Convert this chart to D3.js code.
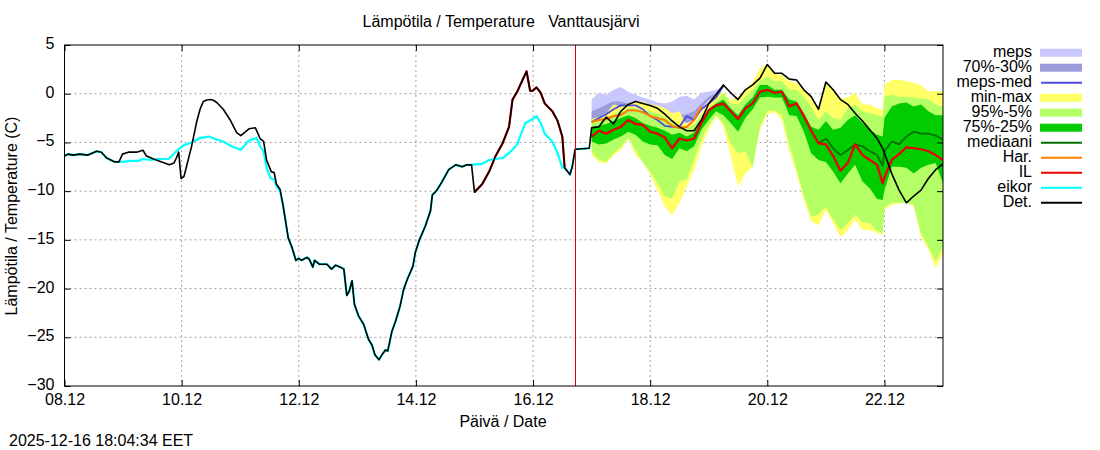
<!DOCTYPE html>
<html>
<head>
<meta charset="utf-8">
<script src="https://cdn.jsdelivr.net/npm/d3@7"></script>
<style>
  body { margin: 0; background: #fff; }
  text { font-family: "Liberation Sans", Arial, sans-serif; font-size: 16px; fill: #000; }
</style>
</head>
<body>
<svg id="chart" width="1100" height="450"></svg>
<script>
// Forecast time grid, 3 hour steps from 17.12 to 23.12 (extra point where the ensemble switches just before 22.12)
var fcDays = [17,17.125,17.25,17.375,17.5,17.625,17.75,17.875,18,18.125,18.25,18.375,18.5,18.625,18.75,18.875,
  19,19.125,19.25,19.375,19.5,19.625,19.75,19.875,20,20.125,20.25,20.375,20.5,20.625,20.75,20.875,
  21,21.125,21.25,21.375,21.5,21.625,21.75,21.875,21.97,22,22.125,22.25,22.375,22.5,22.625,22.75,22.875,23];

var minMaxHigh = [-2.6,-2.4,-2.0,-1.1,-1.3,-1.0,-0.8,-0.8,-1.1,-1.2,-1.5,-2.0,-1.8,-3.2,-3.0,-2.0,
  -0.9,-0.3,0.2,-0.7,-0.3,0.3,1.2,2.6,3.0,2.1,1.9,1.3,1.1,0.4,-0.4,-1.5,
  1.1,0.4,-0.5,-0.4,0.1,-1.1,-1.1,-1.5,-1.7,0.9,1.4,1.4,1.3,1.1,0.9,0.2,0.3,0.2];
var minMaxLow = [-6.3,-7.0,-7.2,-6.3,-5.8,-4.6,-6.3,-7.0,-8.3,-9.9,-11.6,-12.5,-11.2,-9.5,-7.8,-5.4,
  -3.7,-2.3,-3.4,-6.4,-9.5,-8.2,-7.5,-3.7,-2.1,-1.9,-2.7,-5.8,-8.2,-10.9,-13.1,-13.5,
  -11.9,-13.3,-14.7,-14.0,-12.9,-14.0,-14.0,-14.3,-14.5,-11.9,-11.4,-11.3,-11.2,-11.6,-14.7,-16.0,-17.9,-16.4];
var p95High = [-2.8,-2.5,-2.5,-2.1,-1.8,-1.5,-1.5,-1.7,-1.8,-2.0,-2.4,-2.9,-3.2,-3.5,-3.2,-2.2,
  -1.5,-0.8,0.1,-1.0,-1.1,-0.3,0.4,1.3,1.8,1.3,1.3,0.4,0.4,-0.3,-1.3,-2.7,
  -1.8,-2.5,-2.7,-1.5,-1.1,-1.8,-2.0,-2.2,-2.4,-0.3,-0.1,-0.3,-0.3,-0.4,-0.5,-0.6,-1.1,-1.3];
var p5Low = [-5.9,-6.8,-7.0,-6.1,-5.5,-4.5,-5.8,-7.0,-8.0,-9.2,-10.5,-10.8,-9.0,-8.8,-6.8,-4.7,
  -3.2,-2.2,-3.0,-5.1,-6.1,-5.9,-7.5,-3.4,-1.8,-1.7,-2.2,-5.2,-7.8,-10.5,-12.6,-12.4,
  -11.6,-12.9,-14.0,-13.3,-12.4,-13.2,-13.3,-14.1,-14.3,-11.7,-11.2,-11.2,-11.2,-11.4,-14.3,-15.7,-17.2,-15.7];
var p75High = [-3.4,-3.3,-3.1,-2.8,-2.5,-2.2,-2.5,-3.0,-3.3,-3.5,-3.8,-4.2,-4.0,-4.4,-4.0,-2.8,
  -1.6,-1.0,-0.6,-1.5,-2.2,-1.1,-0.4,0.9,0.9,0.4,0.4,-0.6,-0.8,-2.0,-3.4,-3.7,
  -2.8,-3.7,-3.5,-2.7,-2.2,-3.0,-3.7,-4.2,-4.4,-2.5,-1.3,-1.0,-0.9,-1.3,-1.1,-1.8,-2.2,-2.2];
var p25Low = [-4.9,-5.2,-5.1,-4.7,-4.4,-3.9,-4.2,-4.9,-5.2,-5.3,-6.3,-6.7,-5.6,-5.9,-5.4,-3.7,
  -2.7,-1.8,-2.2,-3.0,-3.9,-2.5,-1.6,-0.4,-0.3,-0.4,-0.4,-2.2,-2.3,-3.9,-6.1,-6.8,
  -7.0,-8.0,-9.2,-8.2,-7.3,-9.0,-9.7,-10.8,-10.9,-9.9,-7.5,-7.5,-7.6,-8.2,-7.6,-7.3,-7.1,-9.2];
var medianValues = [-4.4,-3.8,-4.1,-3.7,-3.4,-2.7,-3.1,-3.2,-3.9,-4.1,-4.5,-5.6,-4.6,-4.8,-4.6,-3.0,
  -1.7,-1.2,-1.0,-1.8,-2.6,-1.5,-1.0,0.2,0.4,0.1,0.2,-1.3,-1.0,-2.3,-3.8,-5.1,
  -4.6,-5.6,-6.3,-5.8,-5.2,-5.4,-5.9,-6.3,-7.4,-5.9,-4.9,-5.2,-4.4,-3.9,-4.1,-4.1,-4.3,-4.7];
var ilValues = [-4.4,-3.8,-4.1,-3.7,-3.4,-2.7,-3.1,-3.2,-3.9,-4.1,-4.5,-5.6,-4.6,-4.8,-4.6,-3.0,
  -1.7,-1.2,-1.0,-1.8,-2.6,-1.5,-1.0,0.2,0.4,0.1,0.2,-1.3,-1.0,-2.3,-3.8,-5.1,
  -5.2,-6.4,-7.9,-7.1,-5.2,-6.3,-6.8,-7.3,-9.2,-8.6,-6.8,-6.2,-5.5,-5.6,-5.7,-5.9,-6.3,-6.8];
var detFcValues = [-3.5,-3.4,-2.4,-3.1,-1.8,-1.1,-0.8,-1.0,-1.2,-1.5,-2.1,-2.8,-3.4,-3.8,-3.8,-2.7,
  -1.0,-0.1,0.9,0.1,-0.6,0.4,0.9,1.6,3.0,2.1,2.1,1.5,1.4,0.4,-0.3,-1.6,
  1.2,0.4,-0.6,-1.1,-2.0,-2.8,-3.7,-4.6,-5.6,-6.1,-8.2,-9.9,-11.2,-10.5,-9.9,-8.7,-7.8,-7.2];

// MEPS runs end earlier, 19.12 06 o'clock
var mepsDays = fcDays.slice(0, 19);
var mepsHigh = [-0.6,0.1,-0.1,0.4,0.7,0.2,-0.1,-0.4,-0.6,-0.9,-1.0,-0.8,-0.3,-0.2,-0.6,0.1,0.2,0.4,0.8];
var mepsLow = [-3.0,-2.5,-2.2,-2.0,-1.8,-1.5,-1.3,-1.6,-2.2,-2.5,-3.0,-3.3,-3.4,-2.8,-2.7,-1.3,-0.6,-0.1,0.8];
var meps70 = [-1.8,-1.5,-1.1,-0.8,-0.8,-1.0,-1.0,-1.1,-1.3,-1.6,-2.1,-2.3,-2.2,-2.1,-1.8,-1.0,-0.3,0.1,0.8];
var meps30 = [-2.8,-2.5,-2.3,-2.1,-1.7,-1.5,-1.5,-1.8,-2.3,-2.6,-3.1,-3.4,-3.4,-3.0,-2.7,-1.5,-0.7,-0.2,0.8];
var mepsMed = [-2.9,-2.5,-2.1,-1.6,-1.2,-1.2,-1.2,-1.6,-2.3,-2.7,-3.3,-3.4,-3.4,-2.3,-2.7,-1.6,-1.0,-0.4,0.8];

// Har. stops even earlier
var harDays = fcDays.slice(0, 16);
var harValues = [-2.9,-2.7,-2.6,-2.3,-2.2,-1.7,-1.7,-1.9,-2.3,-2.5,-2.7,-3.3,-3.5,-3.4,-2.7,-1.3];

// Observed period, Det. line
var obsDays = [8,8.06,8.15,8.26,8.4,8.55,8.63,8.72,8.86,8.93,8.99,9.09,9.23,9.34,9.4,9.52,9.66,9.79,9.87,9.91,9.95,9.99,
  10.04,10.17,10.26,10.32,10.37,10.43,10.5,10.55,10.6,10.71,10.83,10.94,11.01,11.15,11.26,11.34,11.4,11.45,11.53,11.58,11.62,
  11.68,11.73,11.77,11.82,11.88,11.95,12,12.05,12.14,12.18,12.24,12.27,12.35,12.48,12.56,12.63,12.71,12.77,12.82,12.86,12.91,12.95,
  13.02,13.11,13.19,13.25,13.3,13.37,13.42,13.48,13.52,13.59,13.65,13.73,13.79,13.85,13.95,13.99,
  14.06,14.16,14.25,14.28,14.36,14.45,14.56,14.68,14.79,14.87,14.95,15,15.13,15.25,15.36,15.48,15.59,15.65,15.73,15.82,15.89,15.95,15.99,
  16.06,16.13,16.2,16.33,16.42,16.5,16.54,16.63,16.67,16.72,16.96];
var obsValues = [-6.4,-6.2,-6.3,-6.2,-6.3,-5.9,-6.0,-6.6,-7.0,-7.0,-6.2,-6.0,-6.0,-5.8,-6.4,-6.7,-7.0,-7.3,-7.1,-6.6,-6.0,-8.7,
  -8.5,-5.4,-2.8,-1.5,-0.8,-0.65,-0.6,-0.7,-0.9,-1.6,-2.7,-4.0,-4.3,-3.6,-3.5,-4.6,-4.9,-6.8,-8.0,-8.1,-9.3,
  -9.8,-11.4,-12.9,-14.8,-15.7,-17.1,-16.9,-17.1,-16.8,-17.0,-17.8,-17.1,-17.5,-17.5,-18.0,-17.6,-17.8,-18.0,-20.7,-20.3,-19.2,-21.6,
  -22.8,-23.7,-25.2,-25.8,-26.8,-27.3,-26.8,-26.3,-26.4,-24.4,-23.4,-21.8,-20.1,-19.1,-17.7,-16.3,
  -15.0,-13.6,-12.0,-10.4,-9.9,-9.0,-7.8,-7.3,-7.5,-7.3,-7.3,-10.1,-9.3,-8.0,-6.4,-5.1,-3.4,-0.6,0.2,1.4,2.3,0.3,0.3,
  0.65,0.1,-1.0,-1.8,-2.8,-4.4,-7.6,-8.3,-7.5,-5.7,-5.6];

// eikor where it leaves the Det. line
var eikorDays1 = [8.93,9,9.12,9.26,9.34,9.46,9.6,9.77,9.83,9.91,10.03,10.17,10.31,10.46,10.57,10.71,10.85,11.01,11.15,11.28,11.34,11.4,11.45,11.52,11.58,11.62,11.68];
var eikorTemp1 = [-7.0,-7.0,-6.9,-6.9,-6.7,-6.8,-6.7,-6.7,-6.4,-5.9,-5.3,-5.0,-4.55,-4.4,-4.65,-4.9,-5.4,-5.75,-4.8,-4.55,-5.4,-5.9,-7.6,-8.7,-8.8,-9.5,-10.0];
var eikorDays2 = [14.95,15.13,15.25,15.48,15.59,15.73,15.79,15.87,15.99,16.06,16.13,16.2,16.33,16.42,16.5,16.54];
var eikorTemp2 = [-7.3,-7.2,-6.8,-6.6,-6.1,-5.2,-4.2,-3.0,-2.6,-2.3,-3.0,-4.1,-4.9,-6.1,-7.6,-7.6];

var nowDay = 16.72;

var xTicks = [8,10,12,14,16,18,20,22];
var yTicks = [5,0,-5,-10,-15,-20,-25,-30];

var legendNames = ["meps","70%-30%","meps-med","min-max","95%-5%","75%-25%","mediaani","Har.","IL","eikor","Det."];
var legendColors = ["#c8c8ff","#9c9cdc","#4c4ce0","#ffff66","#b4ff66","#00cc00","#007000","#ff8000","#ee0000","#00ffff","#000000"];
var legendIsBand = [true,true,false,true,true,true,false,false,false,false,false];

var left = 64.5, right = 943, top_ = 45, bottom = 386;
var svg = d3.select("#chart");

var x = d3.scaleLinear().domain([8, 23]).range([left, right]);
var y = d3.scaleLinear().domain([-30, 5]).range([bottom, top_]);

svg.append("clipPath").attr("id", "plot").append("rect")
  .attr("x", left).attr("y", top_).attr("width", right - left).attr("height", bottom - top_);

// Grid lines
var gridColor = "#a0a0a0";
svg.append("g").selectAll("line").data(xTicks.slice(1)).join("line")
  .attr("x1", d => x(d)).attr("x2", d => x(d)).attr("y1", top_).attr("y2", bottom)
  .attr("stroke", gridColor).attr("stroke-dasharray", "2,3");
svg.append("g").selectAll("line").data(yTicks.slice(1, -1)).join("line")
  .attr("x1", left).attr("x2", right).attr("y1", d => y(d)).attr("y2", d => y(d))
  .attr("stroke", gridColor).attr("stroke-dasharray", "2,3");

var plot = svg.append("g").attr("clip-path", "url(#plot)");

function drawBand(days, hi, lo, color) {
  var area = d3.area()
    .x((d, i) => x(days[i]))
    .y0((d, i) => y(lo[i]))
    .y1((d, i) => y(hi[i]));
  plot.append("path").attr("d", area(days)).attr("fill", color);
}

function drawLine(days, vals, color, width) {
  var line = d3.line()
    .x((d, i) => x(days[i]))
    .y((d, i) => y(vals[i]));
  plot.append("path").attr("d", line(days))
    .attr("fill", "none").attr("stroke", color).attr("stroke-width", width)
    .attr("stroke-linejoin", "round");
}

// Draw order follows the legend
drawBand(mepsDays, mepsHigh, mepsLow, legendColors[0]);
drawBand(mepsDays, meps70, meps30, legendColors[1]);
drawBand(fcDays, minMaxHigh, minMaxLow, legendColors[3]);
drawBand(fcDays, p95High, p5Low, legendColors[4]);
drawBand(fcDays, p75High, p25Low, legendColors[5]);
drawLine(mepsDays, mepsMed, legendColors[2], 1.8);
drawLine(fcDays, medianValues, legendColors[6], 1.8);
drawLine(harDays, harValues, legendColors[7], 2.2);

// IL follows the observations from 15.12 on, then its own forecast
var ilObs = obsDays.map((d, i) => [d, obsValues[i]]).filter(p => p[0] >= 15 && p[0] <= 16.54);
drawLine(ilObs.map(p => p[0]), ilObs.map(p => p[1]), legendColors[8], 2.2);
drawLine(fcDays, ilValues, legendColors[8], 2.2);

// eikor runs under Det. except for its two own stretches
var eikorObs = obsDays.map((d, i) => [d, obsValues[i]]);
var eikorAll = eikorObs.filter(p => p[0] < 8.93)
  .concat(eikorDays1.map((d, i) => [d, eikorTemp1[i]]))
  .concat(eikorObs.filter(p => p[0] > 11.7 && p[0] < 14.95))
  .concat(eikorDays2.map((d, i) => [d, eikorTemp2[i]]))
  .concat(eikorObs.filter(p => p[0] > 16.54));
drawLine(eikorAll.map(p => p[0]), eikorAll.map(p => p[1]), legendColors[9], 2.2);

// Det. is one line through observations and forecast
drawLine(obsDays.concat(fcDays), obsValues.concat(detFcValues), legendColors[10], 1.6);

// Now marker
svg.append("line").attr("x1", x(nowDay)).attr("x2", x(nowDay)).attr("y1", top_).attr("y2", bottom)
  .attr("stroke", "#e00000").attr("stroke-width", 1).attr("shape-rendering", "crispEdges");

// Axes, gnuplot style with mirrored inward ticks
function styleAxis(g) {
  g.select(".domain").remove();
  g.selectAll(".tick line").attr("stroke", "#000");
  g.selectAll(".tick text").style("font-size", "16px").style("font-family", '"Liberation Sans", Arial, sans-serif').attr("fill", "#000");
}
var dayLabel = d => String(d).padStart(2, "0") + ".12";
svg.append("g").attr("transform", `translate(0,${bottom})`)
  .call(d3.axisBottom(x).tickValues(xTicks).tickFormat(dayLabel).tickSize(-6).tickPadding(8))
  .call(styleAxis);
svg.append("g").attr("transform", `translate(0,${top_})`)
  .call(d3.axisTop(x).tickValues(xTicks).tickFormat("").tickSize(-6))
  .call(styleAxis);
svg.append("g").attr("transform", `translate(${left},0)`)
  .call(d3.axisLeft(y).tickValues(yTicks).tickFormat(d3.format("d")).tickSize(-6).tickPadding(10))
  .call(styleAxis)
  .call(g => g.selectAll(".tick text").attr("dy", "0.22em"));
svg.append("g").attr("transform", `translate(${right},0)`)
  .call(d3.axisRight(y).tickValues(yTicks).tickFormat("").tickSize(-6))
  .call(styleAxis);
svg.append("rect").attr("x", left).attr("y", top_).attr("width", right - left).attr("height", bottom - top_)
  .attr("fill", "none").attr("stroke", "#000");

// Labels
svg.append("text").attr("x", 501).attr("y", 27).attr("text-anchor", "middle").style("white-space", "pre")
  .text("Lämpötila / Temperature   Vanttausjärvi");
svg.append("text").attr("x", 503).attr("y", 427).attr("text-anchor", "middle").text("Päivä / Date");
svg.append("text").attr("transform", "translate(17,216) rotate(-90)").attr("text-anchor", "middle")
  .text("Lämpötila / Temperature (C)");
svg.append("text").attr("x", 9).attr("y", 446).text("2025-12-16 18:04:34 EET");

// Legend
var legendY = d3.scalePoint().domain(legendNames).range([52.7, 202.7]);
var legend = svg.append("g");
legend.selectAll("text").data(legendNames).join("text")
  .attr("x", 1032).attr("y", d => legendY(d) + 4.5).attr("text-anchor", "end").text(d => d);
legendNames.forEach((name, i) => {
  if (legendIsBand[i]) {
    legend.append("rect").attr("x", 1040).attr("y", legendY(name) - 4).attr("width", 42).attr("height", 8)
      .attr("fill", legendColors[i]);
  } else {
    legend.append("line").attr("x1", 1041).attr("x2", 1082).attr("y1", legendY(name)).attr("y2", legendY(name))
      .attr("stroke", legendColors[i]).attr("stroke-width", 2);
  }
});
</script>
</body>
</html>
